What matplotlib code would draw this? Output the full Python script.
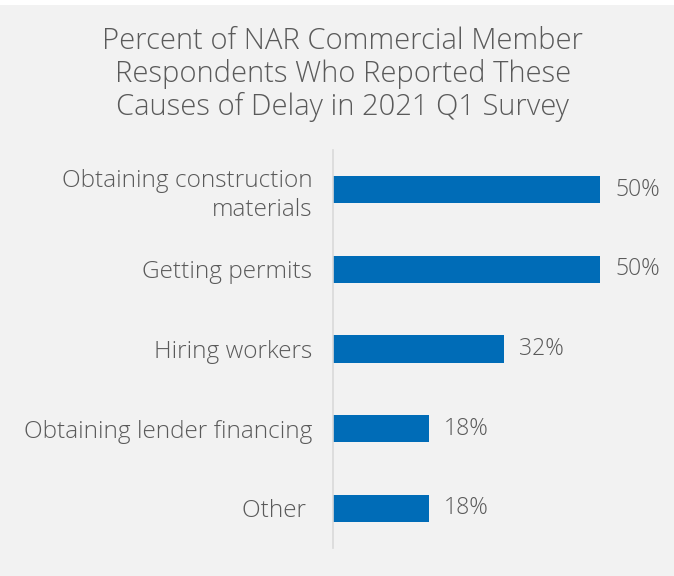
import matplotlib.pyplot as plt
from matplotlib.patches import Rectangle

categories = ["Obtaining construction\nmaterials", "Getting permits", "Hiring workers",
              "Obtaining lender financing", "Other "]
values = [50, 50, 32, 18, 18]
title = "Percent of NAR Commercial Member\nRespondents Who Reported These\nCauses of Delay in 2021 Q1 Survey"

bg = "#f2f2f2"
bar_color = "#006cb7"
text_color = "#5a5a5a"
plt.rcParams['font.family'] = ['Open Sans', 'DejaVu Sans']

fig = plt.figure(figsize=(6.74, 5.76), dpi=100, facecolor=bg)
# thin white strip along the top edge
fig.patches.append(Rectangle((0, 1 - 5 / 576), 1, 5 / 576, transform=fig.transFigure,
                             facecolor="white", edgecolor="none"))

ax = fig.add_axes([333 / 674, 1 - 548 / 576, 320 / 674, 398 / 576])
ax.set_facecolor(bg)

ypos = list(range(len(categories)))
ax.barh(ypos, values, height=0.34, color=bar_color)
ax.set_ylim(len(categories) - 0.5, -0.5)
ax.set_xlim(0, 60)

for y, v in zip(ypos, values):
    ax.annotate(f"{v}%", (v, y), xytext=(11, 0), textcoords="offset points",
                ha="left", va="center", fontsize=16.6, color=text_color,
                fontweight="light")

ax.set_yticks(ypos)
ax.set_yticklabels(categories, fontsize=17.6, color=text_color, linespacing=1.3,
                   fontweight="light")
ax.tick_params(axis="y", length=0, pad=15)
ax.set_xticks([])
for s in ["top", "right", "bottom"]:
    ax.spines[s].set_visible(False)
ax.spines["left"].set_color("#d9d9d9")
ax.spines["left"].set_linewidth(1.2)

fig.text(343 / 674, 1 - 74 / 576, title, ha="center", va="center", fontsize=21,
         color=text_color, linespacing=1.12, fontweight="light")

fig.savefig("out.png", dpi=100, facecolor=bg)
